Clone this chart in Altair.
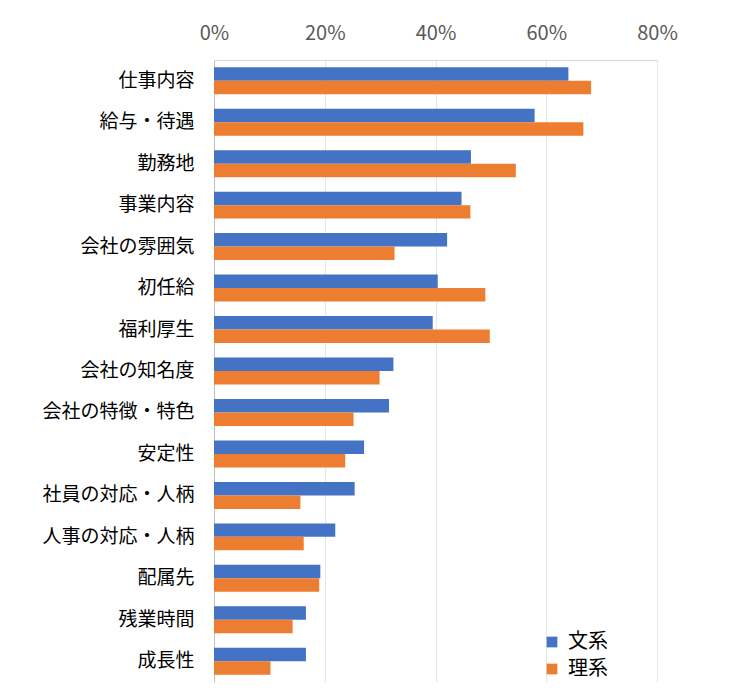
import altair as alt
import pandas as pd

FONT = "Noto Sans CJK JP"

items = [
    "仕事内容", "給与・待遇", "勤務地", "事業内容", "会社の雰囲気",
    "初任給", "福利厚生", "会社の知名度", "会社の特徴・特色", "安定性",
    "社員の対応・人柄", "人事の対応・人柄", "配属先", "残業時間", "成長性",
]
bunkei = [64.0, 57.9, 46.4, 44.7, 42.1, 40.4, 39.5, 32.4, 31.6, 27.1, 25.4, 21.9, 19.2, 16.6, 16.6]
rikei = [68.1, 66.7, 54.5, 46.3, 32.6, 49.0, 49.8, 29.9, 25.2, 23.7, 15.6, 16.2, 19.0, 14.2, 10.2]
series = ["文系", "理系"]
colors = ["#4472C4", "#ED7D31"]

df = pd.concat(
    [
        pd.DataFrame({"item": items, "series": series[0], "value": bunkei}),
        pd.DataFrame({"item": items, "series": series[1], "value": rikei}),
    ]
)

chart = (
    alt.Chart(df)
    .mark_bar()
    .encode(
        x=alt.X(
            "value:Q",
            scale=alt.Scale(domain=[0, 80], nice=False),
            axis=alt.Axis(
                orient="top",
                values=[0, 20, 40, 60, 80],
                labelExpr="datum.value + '%'",
                title=None,
                ticks=False,
                labelFlush=False,
                labelPadding=17,
                labelFontSize=20,
                labelColor="#595959",
                domainColor="#d9d9d9",
                gridColor="#e6e6e6",
            ),
        ),
        y=alt.Y(
            "item:N",
            sort=items,
            scale=alt.Scale(paddingInner=0.35, paddingOuter=0.175),
            axis=alt.Axis(
                title=None,
                ticks=False,
                labelPadding=20,
                labelFontSize=19,
                labelColor="#000000",
                domainColor="#bfbfbf",
                grid=False,
            ),
        ),
        yOffset=alt.YOffset("series:N", sort=series),
        color=alt.Color(
            "series:N",
            sort=series,
            scale=alt.Scale(domain=series, range=colors),
            legend=alt.Legend(
                title=None,
                orient="none",
                legendX=328,
                legendY=572,
                symbolType="square",
                symbolSize=115,
                symbolStrokeWidth=0,
                labelFontSize=20,
                labelColor="#000000",
                rowPadding=7,
                labelOffset=6,
            ),
        ),
    )
    .properties(
        width=443,
        height=622,
        autosize=alt.AutoSizeParams(type="none"),
        padding={"left": 206, "top": 52, "right": 60, "bottom": 10},
    )
    .configure(font=FONT)
    .configure_view(stroke=None)
)

chart.save("out.html", embed_options={"renderer": "svg", "actions": False})
